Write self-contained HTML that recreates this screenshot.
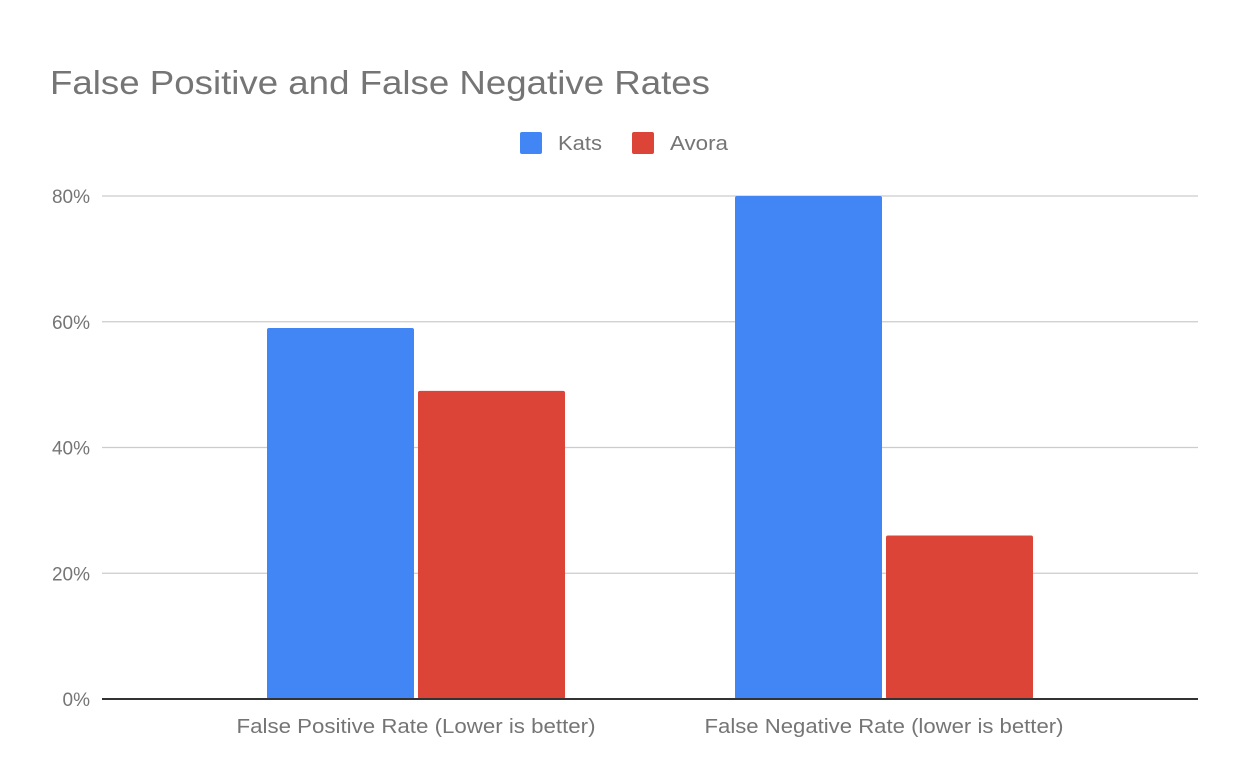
<!DOCTYPE html>
<html><head><meta charset="utf-8"><style>
body{margin:0;background:#fff;}
svg{display:block;font-family:"Liberation Sans",sans-serif;}
</style></head><body>
<svg id="chart" width="1238" height="770">
<text x="50" y="94" font-size="33" fill="#757575" textLength="660" lengthAdjust="spacingAndGlyphs">False Positive and False Negative Rates</text>
<g>
<rect x="520" y="132" width="22" height="22" rx="2" fill="#4285f4"/>
<text x="558" y="150" font-size="20" fill="#757575" textLength="44" lengthAdjust="spacingAndGlyphs">Kats</text>
<rect x="632" y="132" width="22" height="22" rx="2" fill="#db4437"/>
<text x="670" y="150" font-size="20" fill="#757575" textLength="58" lengthAdjust="spacingAndGlyphs">Avora</text>
</g>
<g id="grid"></g><g id="bars"></g><g id="xlabels"></g>
</svg>
<script>
const categories=["False Positive Rate (Lower is better)","False Negative Rate (lower is better)"];
const katsValues=[59,80];
const avoraValues=[49,26];
const yTicks=[0,20,40,60,80];
const tickLabels=["0%","20%","40%","60%","80%"];
const NS="http://www.w3.org/2000/svg";
const x0=102,x1=1198,y0=699,yTop=196,yMax=80;
const bx0=182,bx1=1118;
const y=v=>y0-(v/yMax)*(y0-yTop);
const bandW=(bx1-bx0)/categories.length;
const xc=i=>bx0+bandW*(i+0.5);
function mk(tag,attrs,parent){const e=document.createElementNS(NS,tag);for(const k in attrs)e.setAttribute(k,attrs[k]);parent.appendChild(e);return e;}
const grid=document.getElementById('grid');
yTicks.forEach((t,i)=>{
 const l=mk('line',{x1:x0,x2:x1,y1:y(t),y2:y(t),stroke:t===0?'#333':'#ccc','stroke-width':t===0?2:1.3},grid);
 
 
 const tx=mk('text',{x:90,y:y(t)+7,'text-anchor':'end','font-size':19,fill:'#757575'},grid);
 tx.textContent=tickLabels[i];
 
 
});
const bars=document.getElementById('bars');
const bw=147,gap=4;
categories.forEach((c,i)=>{
 const cx=xc(i);
 const b1=mk('rect',{x:cx-gap/2-bw,y:y(katsValues[i]),width:bw,height:y0-y(katsValues[i]),fill:'#4285f4',rx:2},bars);
 
 
 const b2=mk('rect',{x:cx+gap/2,y:y(avoraValues[i]),width:bw,height:y0-y(avoraValues[i]),fill:'#db4437',rx:2},bars);
 
 
 const t=mk('text',{x:cx,y:733,'text-anchor':'middle','font-size':20,fill:'#757575',textLength:359,lengthAdjust:'spacingAndGlyphs'},document.getElementById('xlabels'));
 t.textContent=c;
 
 
});
grid.parentNode.appendChild(grid.firstChild);
</script>
</body></html>
